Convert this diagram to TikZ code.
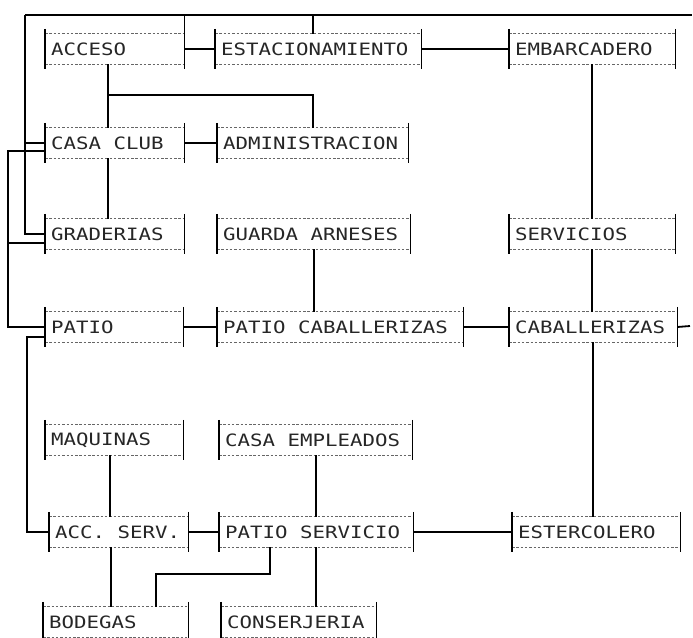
\documentclass[tikz,border=0pt]{standalone}
\usepackage{fontspec}
\usetikzlibrary{calc}
\newfontfamily\matrixfont[FakeStretch=1.22]{DejaVu Sans Mono}
\newcommand\gap{\hspace*{12.5pt}}

\begin{document}
\begin{tikzpicture}[
  x=1pt, y=-1pt,
  line cap=butt, line join=miter,
  room/.style={anchor=west, minimum height=30pt, inner xsep=6pt, inner ysep=0pt,
    text width=#1, align=left, text=black!85,
    font=\matrixfont\fontsize{17}{17}\selectfont},
  link/.style={black, line width=1.8pt},
  rule/.style={black!60, line width=0.7pt, dash pattern=on 2.5pt off 1.8pt},
  side/.style={black, line width=1.6pt}
]

% Background / page size
\fill[white] (0,0) rectangle (693,637);
\useasboundingbox (0,0) rectangle (693,637);

% === Rooms ===
\node[room=127] (acc)  at (45,49)  {ACCESO};
\node[room=194] (est)  at (215,49) {ESTACIONAMIENTO};
\node[room=154] (emb)  at (509,49) {EMBARCADERO};

\node[room=127] (cas)  at (45,143)  {CASA\gap CLUB};
\node[room=179] (adm)  at (217,143) {ADMINISTRACION};

\node[room=127] (gra)  at (45,234)  {GRADERIAS};
\node[room=181] (gua)  at (217,234) {GUARDA\gap ARNESES};
\node[room=154] (serv) at (509,234) {SERVICIOS};

\node[room=126] (pat)  at (45,327)  {PATIO};
\node[room=234] (pcab) at (217,327) {PATIO\gap CABALLERIZAS};
\node[room=156] (cab)  at (509,327) {CABALLERIZAS};

\node[room=126] (maq)  at (45,440)  {MAQUINAS};
\node[room=181] (cemp) at (219,440) {CASA\gap EMPLEADOS};

\node[room=127] (acs)  at (49,532)  {ACC.\gap SERV.};
\node[room=182] (pser) at (219,532) {PATIO\gap SERVICIO};
\node[room=156] (ste)  at (512,532) {ESTERCOLERO};

\node[room=133] (bod)  at (43,622)  {BODEGAS};
\node[room=143] (cons) at (221,622) {CONSERJERIA};

% Box frames: dotted top/bottom, solid sides
\foreach \n in {acc,est,emb,cas,adm,gra,gua,serv,pat,pcab,cab,maq,cemp,acs,pser,ste,bod,cons} {
  \draw[rule] (\n.north west) -- (\n.north east);
  \draw[rule] (\n.south west) -- (\n.south east);
  \draw[side] ([yshift=5pt]\n.north west) -- ([yshift=-5pt]\n.south west);
  \draw[side] ([yshift=5pt]\n.north east) -- ([yshift=-5pt]\n.south east);
}

% === Top bus and left buses ===
\coordinate (tl) at (25,15);
\coordinate (tr) at (692,15);
\coordinate (cabout) at (690,326);

\draw[link] (tl) -- (tr);
\draw[link] (acc.north east) -- (acc.north east |- tl);
\draw[link] ([xshift=-5pt]est.north) -- ([xshift=-5pt]est.north |- tl);
\draw[link] (tl) |- (gra.west);
\draw[link] (cas.west) -- (cas.west -| tl);

\draw[link] ([yshift=-8pt]cas.west) -- ++(-37,0) |- (pat.west);
\draw[link] ([yshift=-9pt]gra.west) -- ++(-37,0);
\draw[link] ([yshift=-10pt]pat.west) -- ++(-18,0) |- (acs.west);

% === Horizontal links ===
\draw[link] (acc.east) -- (est.west);
\draw[link] (est.east) -- (emb.west);
\draw[link] (cas.east) -- (adm.west);
\draw[link] (pat.east) -- (pcab.west);
\draw[link] (pcab.east) -- (cab.west);
\draw[link] (cab.east) -- (cabout);
\draw[link] (acs.east) -- (pser.west);
\draw[link] (pser.east) -- (ste.west);

% === Vertical links ===
\draw[link] ([xshift=-7pt]acc.south) -- ([xshift=-7pt]cas.north);
\draw[link] ([xshift=-7pt]acc.south) ++(0,31) -| (adm.north);
\draw[link] ([xshift=-7pt]cas.south) -- ([xshift=-7pt]gra.north);
\draw[link] (emb.south) -- (serv.north);
\draw[link] (gua.south) -- (gua.south |- pcab.north);
\draw[link] (serv.south) -- (serv.south |- cab.north);
\draw[link] (cab.south) -- (cab.south |- ste.north);
\draw[link] ([xshift=-4pt]maq.south) -- ([xshift=-4pt]maq.south |- acs.north);
\draw[link] (cemp.south) -- (cemp.south |- pser.north);
\draw[link] ([xshift=-8pt]acs.south) -- ([xshift=-8pt]acs.south |- bod.north);
\draw[link] (pser.south) -- (pser.south |- cons.north);
\draw[link] ([xshift=-46pt]pser.south) -- ++(0,27) -| ([xshift=40pt]bod.north);

\end{tikzpicture}
\end{document}
